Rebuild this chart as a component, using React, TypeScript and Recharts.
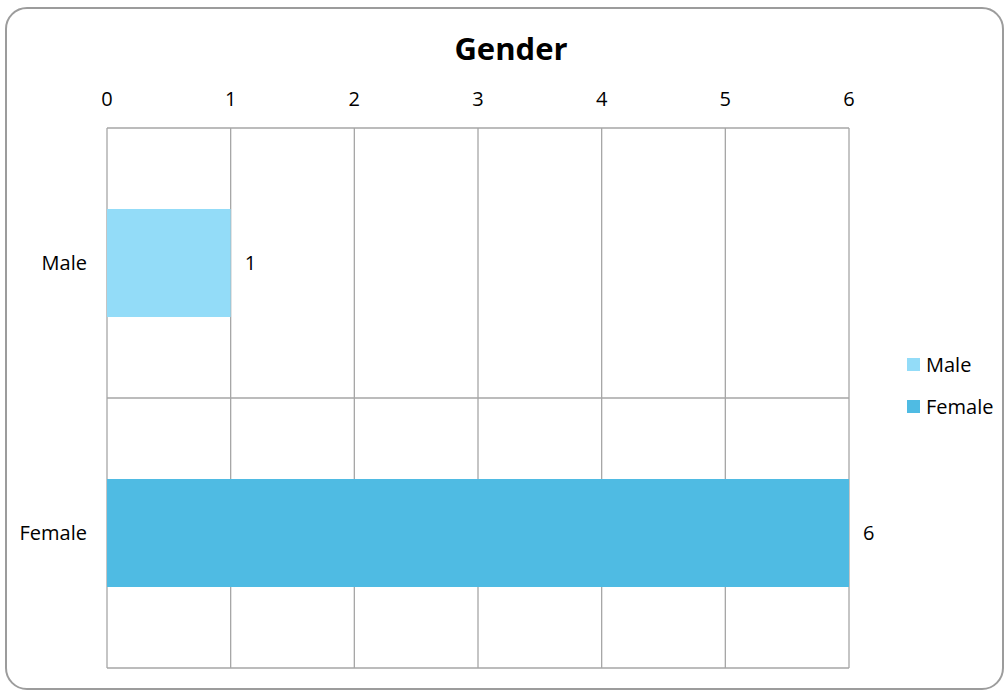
import { Bar, BarChart, CartesianGrid, LabelList, XAxis, YAxis } from 'recharts'

const categories = ['Male', 'Female']
const maleValues = [1, null]
const femaleValues = [null, 6]
const xTicks = [0, 1, 2, 3, 4, 5, 6]
const legendItems = ['Male', 'Female']

const MALE_COLOR = '#93DCF8'
const FEMALE_COLOR = '#4FBBE3'
const GRID_COLOR = '#A6A6A6'
const BORDER_COLOR = '#9C9C9C'
const FONT = '"Open Sans", Lato, sans-serif'

const data = categories.map((name, i) => ({
  name,
  Male: maleValues[i],
  Female: femaleValues[i]
}))

const colorFor: Record<string, string> = { Male: MALE_COLOR, Female: FEMALE_COLOR }

export default function App() {
  return (
    <div style={{ position: 'fixed', left: 0, top: 0, width: 1006, height: 691, overflow: 'hidden', background: '#fff' }}>
      <div
        style={{
          position: 'absolute',
          left: 0,
          width: 1022,
          top: 27,
          textAlign: 'center',
          fontFamily: FONT,
          fontWeight: 700,
          fontSize: 31,
          color: '#000'
        }}
      >
        Gender
      </div>
      <BarChart
        width={1006}
        height={691}
        data={data}
        layout="vertical"
        margin={{ top: 98, right: 157, bottom: 23, left: 0 }}
        barCategoryGap="30%"
      >
        <CartesianGrid
          stroke={GRID_COLOR}
          strokeWidth={1.3}
          horizontalCoordinatesGenerator={({ offset }: any) => [
            offset.top,
            offset.top + offset.height / 2,
            offset.top + offset.height
          ]}
        />
        <XAxis
          type="number"
          orientation="top"
          domain={[0, 6]}
          ticks={xTicks}
          height={30}
          axisLine={false}
          tickLine={false}
          tickMargin={16}
          tick={{ fill: '#000', fontSize: 20, fontFamily: FONT }}
        />
        <YAxis
          type="category"
          dataKey="name"
          width={107}
          axisLine={false}
          tickLine={false}
          tickMargin={14}
          tick={{ fill: '#000', fontSize: 20, fontFamily: FONT }}
        />
        <Bar dataKey="Male" stackId="g" fill={MALE_COLOR} isAnimationActive={false}>
          <LabelList dataKey="Male" position="right" offset={14} fill="#000" fontSize={20} fontFamily={FONT} />
        </Bar>
        <Bar dataKey="Female" stackId="g" fill={FEMALE_COLOR} isAnimationActive={false}>
          <LabelList dataKey="Female" position="right" offset={14} fill="#000" fontSize={20} fontFamily={FONT} />
        </Bar>
      </BarChart>
      <div style={{ position: 'absolute', left: 907, top: 343, fontFamily: FONT, fontSize: 20, color: '#000' }}>
        {legendItems.map((item) => (
          <div key={item} style={{ display: 'flex', alignItems: 'center', height: 42 }}>
            <span
              style={{
                display: 'inline-block',
                width: 13,
                height: 13,
                background: colorFor[item],
                marginRight: 6
              }}
            />
            <span>{item}</span>
          </div>
        ))}
      </div>
      <svg
        width={1006}
        height={691}
        style={{ position: 'absolute', left: 0, top: 0, pointerEvents: 'none', zIndex: 5 }}
      >
        <rect x={6} y={8} width={997} height={681} rx={21} ry={21} fill="none" stroke={BORDER_COLOR} strokeWidth={2} />
      </svg>
    </div>
  )
}
